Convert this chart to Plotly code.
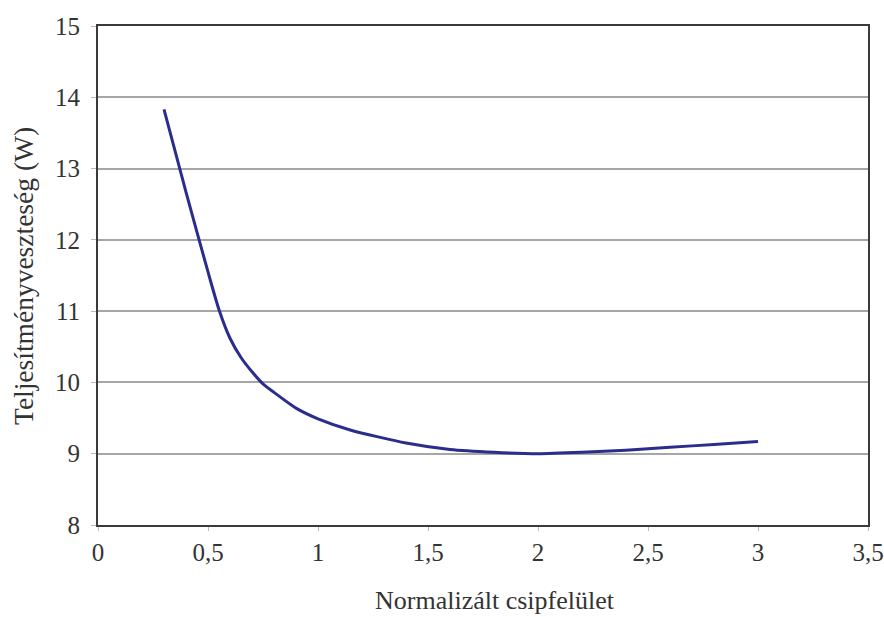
import plotly.graph_objects as go

x_vals = [0.3, 0.4, 0.5, 0.55, 0.6, 0.65, 0.7, 0.75, 0.8, 0.9, 1.0, 1.15, 1.4, 1.6, 1.8, 2.0, 2.2, 2.4, 2.6, 2.8, 3.0]
y_vals = [13.83, 12.67, 11.55, 11.02, 10.62, 10.35, 10.15, 9.98, 9.86, 9.64, 9.49, 9.33, 9.15, 9.06, 9.02, 9.0, 9.02, 9.05, 9.09, 9.13, 9.17]

x_ticks = [0, 0.5, 1, 1.5, 2, 2.5, 3, 3.5]
x_tick_text = ["0", "0,5", "1", "1,5", "2", "2,5", "3", "3,5"]
y_ticks = [8, 9, 10, 11, 12, 13, 14, 15]

x_title = "Normalizált csipfelület"
y_title = "Teljesítményveszteség (W)"

fig = go.Figure()
fig.add_trace(go.Scatter(
    x=x_vals, y=y_vals, mode="lines",
    line=dict(color="#2b2d8c", width=3, shape="spline", smoothing=0.6),
    showlegend=False, hoverinfo="skip",
))

font_family = "Liberation Serif, Times New Roman, serif"
tick_font = dict(family=font_family, size=25, color="#333333")
fig.update_layout(
    width=884, height=617,
    margin=dict(l=98, r=16, t=26, b=92, autoexpand=False),
    paper_bgcolor="white", plot_bgcolor="white",
    font=dict(family=font_family, size=25, color="#333333"),
    annotations=[
        dict(text=x_title, x=495, y=600, xref="paper", yref="paper", showarrow=False,
             font=dict(family=font_family, size=26, color="#333333")),
        dict(text=y_title, x=23, y=276, xref="paper", yref="paper", showarrow=False, textangle=-90,
             font=dict(family=font_family, size=27.5, color="#333333")),
    ],
)
# convert annotation pixel positions to paper coords
W, H = 884, 617
l, r, t, b = 98, 16, 26, 92
pw, ph = W - l - r, H - t - b
for a in fig.layout.annotations:
    a.x = (a.x - l) / pw
    a.y = 1 - (a.y - t) / ph
    a.xanchor = "center"
    a.yanchor = "middle"

fig.update_xaxes(
    range=[0, 3.5], tickvals=x_ticks, ticktext=x_tick_text,
    showgrid=False, zeroline=False, automargin=False,
    showline=True, linecolor="#3a3a3a", linewidth=2, mirror=True,
    ticks="outside", ticklen=4, tickcolor="#bbbbbb", tickwidth=1,
    tickfont=tick_font,
)
fig.update_yaxes(
    range=[8, 15], tickvals=y_ticks, automargin=False,
    showgrid=True, gridcolor="#a6a6a6", gridwidth=2, zeroline=False,
    showline=True, linecolor="#3a3a3a", linewidth=2, mirror=True,
    ticks="outside", ticklen=5, tickcolor="#bbbbbb", tickwidth=1,
    tickfont=tick_font, ticklabelstandoff=6,
)

fig.write_html("out.html")
